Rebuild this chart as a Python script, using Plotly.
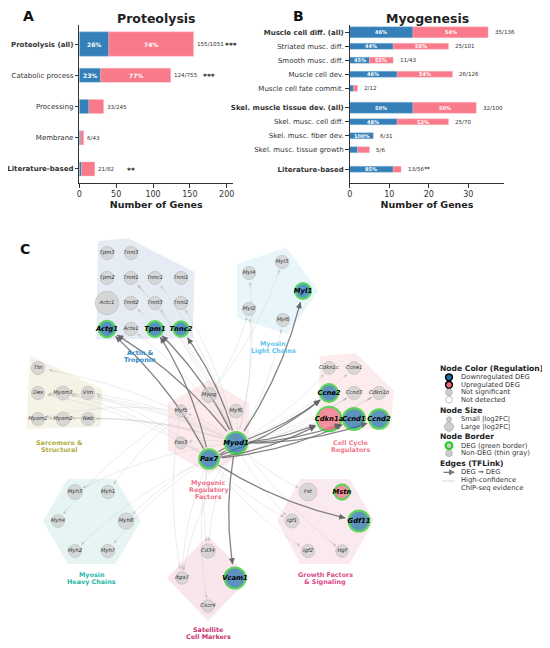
import numpy as np
import plotly.graph_objects as go

# ---------------- Panel A: proteolysis gene sets ----------------
prot_terms = ["Proteolysis (all)", "Catabolic process", "Processing", "Membrane", "Literature-based"]
prot_down = [40, 29, 13, 2, 3]
prot_total = [155, 124, 33, 6, 21]
prot_set_size = [1051, 755, 245, 43, 82]
prot_stars = ["***", "***", "", "", "**"]

# ---------------- Panel B: myogenesis gene sets ----------------
myo_terms = ["Muscle cell diff. (all)", "Striated musc. diff.", "Smooth musc. diff.",
             "Muscle cell dev.", "Muscle cell fate commit.", "Skel. muscle tissue dev. (all)",
             "Skel. musc. cell diff.", "Skel. musc. fiber dev.", "Skel. musc. tissue growth",
             "Literature-based"]
myo_down = [16, 11, 5, 12, 1, 16, 12, 6, 2, 11]
myo_total = [35, 25, 11, 26, 2, 32, 25, 6, 5, 13]
myo_set_size = [136, 101, 43, 126, 12, 100, 70, 31, 6, 56]
myo_stars = ["", "", "", "", "", "", "", "", "", "**"]

# ---------------- Panel C: regulatory network ----------------
node_names = ["Tpm3", "Tnni3", "Tpm2", "Tnnt1", "Tnnc1", "Tnni1", "Actc1", "Tnnt2", "Tnnt3", "Tnni2",
              "Actg1", "Acta1", "Tpm1", "Tnnc2",
              "Myl4", "Myl3", "Myl1", "Myl2", "Myl6",
              "Cdkn1c", "Ccne1", "Ccne2", "Ccnd3", "Cdkn1b", "Cdkn1a", "Ccnd1", "Ccnd2",
              "Ttn", "Des", "Myom3", "Vim", "Myom1", "Myom2", "Neb",
              "Myog", "Myf5", "Myf6", "Pax3", "Myod1", "Pax7",
              "Myh3", "Myh1", "Myh4", "Myh8", "Myh2", "Myh7",
              "Cd34", "Itga7", "Vcam1", "Cxcr4",
              "Fst", "Mstn", "Igf1", "Gdf11", "Igf2", "Hgf"]
node_group = ["actin"] * 14 + ["mlc"] * 5 + ["cycle"] * 8 + ["sarc"] * 7 + ["mrf"] * 6 + \
             ["mhc"] * 6 + ["sat"] * 4 + ["growth"] * 6
node_x = [107, 131, 107, 131, 155, 181, 107, 131, 155, 181, 107, 131, 155, 181,
          249, 282, 303, 249, 283,
          329, 354, 329, 354, 379, 329, 354, 379,
          38, 38, 63, 88, 38, 63, 88,
          209, 181, 236, 181, 236, 209,
          75, 108, 58, 126, 75, 108,
          208, 182, 235, 208,
          308, 342, 292, 359, 308, 342]
node_y = [253, 253, 278, 278, 278, 278, 303, 303, 303, 303, 329, 329, 329, 329,
          273, 262, 291, 309, 320,
          368, 368, 393, 393, 393, 419, 419, 419,
          368, 393, 393, 393, 419, 419, 419,
          395, 411, 411, 443, 443, 459,
          492, 492, 521, 521, 551, 551,
          551, 578, 578, 606,
          492, 492, 521, 521, 551, 551]
node_lfc = [0.25, 0.25, 0.3, 0.3, 0.25, 0.25, -2.3, 0.3, 0.25, 0.25,
            -0.9, 0.3, -0.76, -0.62,
            0.25, 0.3, -0.76, 0.3, 0.25,
            0.2, 0.2, -1.16, 0.3, 0.3, 2.5, -1.96, -1.5,
            0.25, 0.25, 0.44, 0.3, 0.25, 0.4, 0.3,
            0.64, 0.05, 0.36, 0.05, -2.0, -1.5,
            0.6, 0.3, 0.2, 0.84, 0.2, 0.3,
            0.5, 0.1, -1.8, 0.1,
            1.16, 0.62, 0.4, -1.76, 0.25, 0.1]
deg_genes = ["Actg1", "Tpm1", "Tnnc2", "Myl1", "Ccne2", "Cdkn1a", "Ccnd1", "Ccnd2",
             "Myod1", "Pax7", "Vcam1", "Mstn", "Gdf11"]

# DEG -> DEG regulatory edges (TFLink)
deg_src = ["Myod1", "Pax7", "Myod1", "Pax7", "Myod1", "Myod1", "Myod1", "Myod1", "Pax7",
           "Myod1", "Pax7", "Myod1", "Pax7", "Pax7", "Myod1", "Myod1", "Pax7"]
deg_tgt = ["Actg1", "Actg1", "Tpm1", "Tpm1", "Tnnc2", "Myl1", "Ccne2", "Cdkn1a", "Cdkn1a",
           "Ccnd1", "Ccnd1", "Ccnd2", "Ccne2", "Gdf11", "Vcam1", "Pax7", "Myod1"]
# high-confidence ChIP-seq edges
chip_src = ["Myod1"] * 30 + ["Pax7"] * 14 + ["Myog"] * 5 + ["Myf5"] * 3
chip_tgt = ["Myog", "Myf5", "Myf6", "Pax3", "Tnnt2", "Tnnt3", "Tnni2", "Acta1", "Tnnt1",
            "Tnnc1", "Myl2", "Myl6", "Myl4", "Ttn", "Des", "Myom3", "Vim", "Neb", "Myom1",
            "Myom2", "Cdkn1c", "Ccne1", "Ccnd3", "Cdkn1b", "Itga7", "Cd34", "Igf1", "Fst",
            "Myh3", "Myh8",
            "Myf5", "Pax3", "Itga7", "Cd34", "Cxcr4", "Des", "Vim", "Myom3", "Ccnd3",
            "Cdkn1b", "Igf1", "Igf2", "Myh2", "Myh7",
            "Myl2", "Tnnt1", "Myh1", "Myl3", "Hgf",
            "Itga7", "Myom1", "Myh4"]

group_label = {"actin": ["Actin &", "Troponin"], "mlc": ["Myosin", "Light Chains"],
               "cycle": ["Cell Cycle", "Regulators"], "sarc": ["Sarcomere &", "Structural"],
               "mrf": ["Myogenic", "Regulatory", "Factors"], "mhc": ["Myosin", "Heavy Chains"],
               "sat": ["Satellite", "Cell Markers"], "growth": ["Growth Factors", "& Signaling"]}
group_color = {"actin": "#2f86c6", "mlc": "#5ec6ee", "cycle": "#f4768a", "sarc": "#b0ab3a",
               "mrf": "#f0708a", "mhc": "#2cb5a8", "sat": "#c8336d", "growth": "#dc4a88"}
group_fill = {"actin": "#e6ecf4", "mlc": "#e8f6fb", "cycle": "#fdeced", "sarc": "#f5f2e6",
              "mrf": "#fdeaec", "mhc": "#e6f4f3", "sat": "#f9e6ec", "growth": "#fbe9f0"}

FONT = "DejaVu Sans"
TXT = "#333333"
BLUE = "#3580b8"
PINK = "#f97a8b"
NODE_DOWN = "#1a6faa"
NODE_UP = "#f26b7d"
NODE_NS = "#cdcdcd"
GREEN = "#1ecb1e"

# page is offset by the default 8px body margin
OFF = 8
W, H = 550 - OFF, 648 - OFF


def fx(px):
    return (px - OFF) / W


def fy(py):
    return 1 - (py - OFF) / H


fig = go.Figure()
ann = []
shapes = []


def is_summary(t):
    return "(all)" in t


def is_bold(t):
    return "(all)" in t or t == "Literature-based"


def positions(terms, gap):
    pos, p = [], 0.0
    for i, t in enumerate(terms):
        if i > 0:
            p += 1 + (gap if (is_summary(t) or t == "Literature-based") else 0)
        pos.append(p)
    return pos


def add_panel(terms, down, total, sizes, stars, gap, xa, ya, wide, thin,
              min_seg, pct_size, off, star_off):
    pos = positions(terms, gap)
    up = [t - d for t, d in zip(total, down)]
    w = [wide if is_summary(t) else thin for t in terms]
    fig.add_trace(go.Bar(y=pos, x=down, base=0, orientation="h", width=w,
                         marker=dict(color=BLUE, line=dict(color="#8fbfe0", width=0.4)),
                         xaxis=xa, yaxis=ya, hoverinfo="skip", showlegend=False))
    fig.add_trace(go.Bar(y=pos, x=up, base=down, orientation="h", width=w,
                         marker=dict(color=PINK, line=dict(color="#ffc0c8", width=0.4)),
                         xaxis=xa, yaxis=ya, hoverinfo="skip", showlegend=False))
    for p, d, u, tot, n, s in zip(pos, down, up, total, sizes, stars):
        if d >= min_seg:
            ann.append(dict(x=d / 2, y=p, xref=xa, yref=ya, showarrow=False,
                            text="<b>%.0f%%</b>" % (100 * d / tot),
                            font=dict(family=FONT, size=pct_size, color="white")))
        if u >= min_seg:
            ann.append(dict(x=d + u / 2, y=p, xref=xa, yref=ya, showarrow=False,
                            text="<b>%.0f%%</b>" % (100 * u / tot),
                            font=dict(family=FONT, size=pct_size, color="white")))
        label = "%d/%d" % (tot, n)
        if s and star_off is None:
            label += "<b>" + s + "</b>"
        ann.append(dict(x=tot + off, y=p, xref=xa, yref=ya, showarrow=False, xanchor="left",
                        text=label, font=dict(family=FONT, size=5.6, color=TXT)))
        if s and star_off is not None:
            ann.append(dict(x=tot + star_off, y=p, xref=xa, yref=ya, showarrow=False,
                            xanchor="left", yshift=-1.5, text="<b>" + s + "</b>",
                            font=dict(family=FONT, size=7.5, color="#222222")))
    ticktext = ["<b>%s</b>" % t if is_bold(t) else t for t in terms]
    return pos, ticktext


posA, tickA = add_panel(prot_terms, prot_down, prot_total, prot_set_size, prot_stars, 0,
                        "x", "y", 0.78, 0.45, 25, 6, 2, 40.5)
posB, tickB = add_panel(myo_terms, myo_down, myo_total, myo_set_size, myo_stars, 0.4,
                        "x2", "y2", 0.79, 0.43, 4, 5, 1.2, None)

# ---------------- network ----------------
pos = {n: (x, y) for n, x, y in zip(node_names, node_x, node_y)}
size = {n: 12 + 5 * abs(v) for n, v in zip(node_names, node_lfc)}
lw = {n: (2.2 if n in deg_genes else 0.5) for n in node_names}
rad_of = {n: size[n] / 2 + lw[n] / 2 for n in node_names}


def convex_hull(points):
    pts = sorted(set(points))
    if len(pts) <= 2:
        return pts

    def cross(o, a, b):
        return (a[0] - o[0]) * (b[1] - o[1]) - (a[1] - o[1]) * (b[0] - o[0])
    lower, upper = [], []
    for p in pts:
        while len(lower) >= 2 and cross(lower[-2], lower[-1], p) <= 0:
            lower.pop()
        lower.append(p)
    for p in reversed(pts):
        while len(upper) >= 2 and cross(upper[-2], upper[-1], p) <= 0:
            upper.pop()
        upper.append(p)
    return lower[:-1] + upper[:-1]


for g in group_label:
    members = [n for n, gg in zip(node_names, node_group) if gg == g]
    pts = [pos[m] for m in members]
    cx = np.mean([p[0] for p in pts])
    cy = np.mean([p[1] for p in pts])
    path = []
    for vx, vy in convex_hull(pts):
        d = np.hypot(vx - cx, vy - cy)
        path.append((vx + (vx - cx) / d * 15, vy + (vy - cy) / d * 15))
    shapes.append(dict(type="path", xref="x3", yref="y3", layer="below", line=dict(width=0),
                       fillcolor=group_fill[g],
                       path="M " + " L ".join("%.1f,%.1f" % p for p in path) + " Z"))
    ymax = max(p[1] for p in pts)
    for i, line in enumerate(group_label[g]):
        ann.append(dict(x=cx, y=ymax + 24 + i * 7.1, xref="x3", yref="y3", showarrow=False,
                        text="<b>%s</b>" % line,
                        font=dict(family=FONT, size=6.4, color=group_color[g])))


def edge_curve(s, t, rad=0.1, n=60):
    x0, y0 = pos[s]
    x1, y1 = pos[t]
    mx, my = (x0 + x1) / 2, (y0 + y1) / 2
    dx, dy = x1 - x0, y1 - y0
    cx, cy = mx - rad * dy, my + rad * dx
    tt = np.linspace(0, 1, n)
    bx = (1 - tt) ** 2 * x0 + 2 * (1 - tt) * tt * cx + tt ** 2 * x1
    by = (1 - tt) ** 2 * y0 + 2 * (1 - tt) * tt * cy + tt ** 2 * y1
    keep = (np.hypot(bx - x0, by - y0) > rad_of[s]) & (np.hypot(bx - x1, by - y1) > rad_of[t] + 0.5)
    return bx[keep], by[keep]


def add_edges(src, tgt, color, width, head_color, head_w, head_size):
    xs, ys = [], []
    for s, t in zip(src, tgt):
        bx, by = edge_curve(s, t)
        xs += list(bx) + [None]
        ys += list(by) + [None]
        ann.append(dict(x=bx[-1], y=by[-1], ax=bx[-4], ay=by[-4], xref="x3", yref="y3",
                        axref="x3", ayref="y3", text="", showarrow=True, arrowhead=2,
                        arrowsize=head_size, arrowwidth=head_w, arrowcolor=head_color,
                        standoff=0, startstandoff=0))
    fig.add_trace(go.Scatter(x=xs, y=ys, mode="lines", line=dict(color=color, width=width),
                             xaxis="x3", yaxis="y3", hoverinfo="skip", showlegend=False))


add_edges(chip_src, chip_tgt, "rgba(195,195,195,0.5)", 0.6, "rgba(185,185,185,0.7)", 0.6, 1.0)
add_edges(deg_src, deg_tgt, "rgba(110,110,110,0.85)", 1.3, "rgba(100,100,100,0.95)", 1.1, 1.1)

col, txt, tsize, tcol, lcol = [], [], [], [], []
for n, v in zip(node_names, node_lfc):
    if n in deg_genes:
        col.append(NODE_UP if v > 0 else NODE_DOWN)
        txt.append("<b><i>%s</i></b>" % n)
        tsize.append(6.8)
        tcol.append("black")
        lcol.append(GREEN)
    else:
        col.append(NODE_NS)
        txt.append("<i>%s</i>" % n)
        tsize.append(5.3)
        tcol.append(TXT)
        lcol.append("#999999")

fig.add_trace(go.Scatter(x=node_x, y=node_y, mode="markers+text", text=txt,
                         textposition="middle center",
                         textfont=dict(family=FONT, size=tsize, color=tcol),
                         marker=dict(size=[size[n] for n in node_names], color=col,
                                     line=dict(color=lcol, width=[lw[n] for n in node_names])),
                         xaxis="x3", yaxis="y3", hoverinfo="skip", showlegend=False))

# ---------------- network legend ----------------
LX, MX, TX = 438, 449, 459


def leg_title(text, y):
    ann.append(dict(x=LX, y=y, xref="x3", yref="y3", xanchor="left", showarrow=False,
                    text="<b>%s</b>" % text, font=dict(family=FONT, size=7.6, color="#222222")))


def leg_item(text, y):
    ann.append(dict(x=TX, y=y, xref="x3", yref="y3", xanchor="left", showarrow=False,
                    text=text, font=dict(family=FONT, size=6.8, color=TXT)))


def leg_circle(y, r, fill, line_color, line_w):
    shapes.append(dict(type="circle", xref="x3", yref="y3", x0=MX - r, x1=MX + r,
                       y0=y - r, y1=y + r, fillcolor=fill,
                       line=dict(color=line_color, width=line_w)))


leg_title("Node Color (Regulation)", 368)
leg_circle(377.3, 3.4, NODE_DOWN, "black", 1.5)
leg_item("Downregulated DEG", 377.3)
leg_circle(384.8, 3.4, NODE_UP, "black", 1.5)
leg_item("Upregulated DEG", 384.8)
leg_circle(392.2, 3.4, NODE_NS, "#999999", 0.5)
leg_item("Not significant", 392.2)
leg_circle(399.7, 3.4, "white", "#999999", 0.6)
leg_item("Not detected", 399.7)
leg_title("Node Size", 410)
leg_circle(419.3, 2.6, NODE_NS, "#999999", 0.5)
leg_item("Small |log2FC|", 419.3)
leg_circle(426.8, 4.6, NODE_NS, "#999999", 0.5)
leg_item("Large |log2FC|", 426.8)
leg_title("Node Border", 436.7)
leg_circle(445.7, 3.4, NODE_NS, GREEN, 2)
leg_item("DEG (green border)", 445.7)
leg_circle(453.3, 3.4, NODE_NS, "#999999", 0.5)
leg_item("Non-DEG (thin gray)", 453.3)
leg_title("Edges (TFLink)", 463.3)
ann.append(dict(x=455, y=472.3, ax=442, ay=472.3, xref="x3", yref="y3", axref="x3", ayref="y3",
                text="", showarrow=True, arrowhead=2, arrowsize=1, arrowwidth=1.2,
                arrowcolor="#777777"))
leg_item("DEG → DEG", 472.3)
shapes.append(dict(type="line", xref="x3", yref="y3", x0=442, x1=455, y0=481, y1=481,
                   line=dict(color="#cccccc", width=0.8)))
leg_item("High-confidence", 480)
leg_item("ChIP-seq evidence", 488)

# ---------------- titles ----------------
for text, x, y in [("A", 28, 16), ("B", 298, 16), ("C", 25, 249)]:
    ann.append(dict(x=x, y=y, xref="x3", yref="y3", showarrow=False, text="<b>%s</b>" % text,
                    font=dict(family=FONT, size=14, color="#111111")))
for text, x in [("Proteolysis", 156), ("Myogenesis", 427)]:
    ann.append(dict(x=x, y=OFF + 0.5, xref="x3", yref="y3", yanchor="top", showarrow=False,
                    text="<b>%s</b>" % text,
                    font=dict(family=FONT, size=12.5, color="#222222")))

ydom = [fy(183), fy(25)]
axis_common = dict(showline=True, linecolor="#333333", linewidth=1, ticks="outside",
                   ticklen=3.5, tickcolor="#333333", showgrid=False, zeroline=False,
                   fixedrange=True, automargin=False)
xtitle = dict(text="<b>Number of Genes</b>", font=dict(family=FONT, size=9.5, color="#222222"),
              standoff=3)

fig.update_layout(
    width=W, height=H, margin=dict(l=0, r=0, t=0, b=0, pad=0), autosize=False,
    paper_bgcolor="white", plot_bgcolor="rgba(0,0,0,0)",
    barmode="overlay", showlegend=False,
    font=dict(family=FONT, color=TXT),
    xaxis=dict(domain=[fx(79.3), fx(233)], range=[0, 208.5], anchor="y",
               tickvals=[0, 50, 100, 150, 200], tickfont=dict(size=8, color=TXT),
               title=xtitle, **axis_common),
    yaxis=dict(domain=ydom, range=[4.45, -0.61], anchor="x", tickvals=posA, ticktext=tickA,
               tickfont=dict(size=7, color=TXT), **axis_common),
    xaxis2=dict(domain=[fx(349.7), fx(504.3)], range=[0, 39.1], anchor="y2",
                tickvals=[0, 10, 20, 30], tickfont=dict(size=8, color=TXT),
                title=xtitle, **axis_common),
    yaxis2=dict(domain=ydom, range=[10.78, -0.52], anchor="x2", tickvals=posB, ticktext=tickB,
                tickfont=dict(size=7, color=TXT), **axis_common),
    xaxis3=dict(domain=[0, 1], range=[OFF, 550], anchor="y3", visible=False, fixedrange=True,
                automargin=False),
    yaxis3=dict(domain=[0, 1], range=[648, OFF], anchor="x3", visible=False, fixedrange=True,
                automargin=False),
    annotations=ann, shapes=shapes,
)

fig.write_html("out.html")
